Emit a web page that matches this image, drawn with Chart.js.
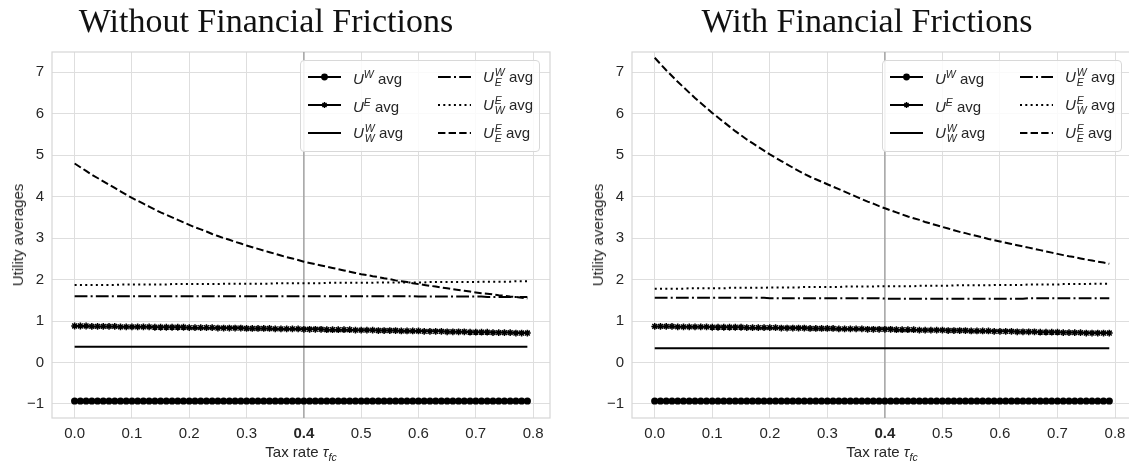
<!DOCTYPE html>
<html>
<head>
<meta charset="utf-8">
<script src="https://cdn.jsdelivr.net/npm/chart.js@4.4.1/dist/chart.umd.min.js"></script>
<style>
  body { margin: 0; background: #fff; }
  #page { position: relative; width: 1129px; height: 464px; overflow: hidden; font-family: "Liberation Sans", Arial, sans-serif; color: #262626; }
  canvas { position: absolute; top: 0; }
  .title { position: absolute; top: 4px; font-family: "Liberation Serif", serif; font-size: 34px; line-height: 34px; color: #111; white-space: nowrap; transform: translateX(-50%); }
  .xlab { position: absolute; top: 444px; font-size: 15px; line-height: 18px; white-space: nowrap; transform: translateX(-50%); }
  .ylab { position: absolute; font-size: 15px; line-height: 18px; white-space: nowrap; transform: translate(-50%, -50%) rotate(-90deg); }
  .legend { position: absolute; width: 240px; height: 92px; border: 1px solid #d8d8d8; border-radius: 4px; background: rgba(255,255,255,0.85); box-sizing: border-box; }
  .item { position: absolute; height: 20px; display: flex; align-items: center; font-size: 15px; white-space: nowrap; }
  .item svg { margin-right: 12px; }
  .sp { font-size: 10.5px; vertical-align: 6px; font-style: italic; }
  .ss { display: inline-block; vertical-align: -4px; font-size: 10.5px; line-height: 10px; font-style: italic; margin-left: 1px; }
  .ss span { display: block; }
</style>
</head>
<body>
<div id="page">
  <canvas id="chartL" width="570" height="464" style="left:0px"></canvas>
  <canvas id="chartR" width="570" height="464" style="left:570px"></canvas>
</div>
<script>
const taxRates = [
  0.00, 0.01, 0.02, 0.03, 0.04, 0.05, 0.06, 0.07, 0.08, 0.09,
  0.10, 0.11, 0.12, 0.13, 0.14, 0.15, 0.16, 0.17, 0.18, 0.19,
  0.20, 0.21, 0.22, 0.23, 0.24, 0.25, 0.26, 0.27, 0.28, 0.29,
  0.30, 0.31, 0.32, 0.33, 0.34, 0.35, 0.36, 0.37, 0.38, 0.39,
  0.40, 0.41, 0.42, 0.43, 0.44, 0.45, 0.46, 0.47, 0.48, 0.49,
  0.50, 0.51, 0.52, 0.53, 0.54, 0.55, 0.56, 0.57, 0.58, 0.59,
  0.60, 0.61, 0.62, 0.63, 0.64, 0.65, 0.66, 0.67, 0.68, 0.69,
  0.70, 0.71, 0.72, 0.73, 0.74, 0.75, 0.76, 0.77, 0.78, 0.79
];
const markedRate = 0.4;

// Without financial frictions
const uwLeft = [
  -0.93, -0.93, -0.93, -0.93, -0.93, -0.93, -0.93, -0.93, -0.93, -0.93,
  -0.93, -0.93, -0.93, -0.93, -0.93, -0.93, -0.93, -0.93, -0.93, -0.93,
  -0.93, -0.93, -0.93, -0.93, -0.93, -0.93, -0.93, -0.93, -0.93, -0.93,
  -0.93, -0.93, -0.93, -0.93, -0.93, -0.93, -0.93, -0.93, -0.93, -0.93,
  -0.93, -0.93, -0.93, -0.93, -0.93, -0.93, -0.93, -0.93, -0.93, -0.93,
  -0.93, -0.93, -0.93, -0.93, -0.93, -0.93, -0.93, -0.93, -0.93, -0.93,
  -0.93, -0.93, -0.93, -0.93, -0.93, -0.93, -0.93, -0.93, -0.93, -0.93,
  -0.93, -0.93, -0.93, -0.93, -0.93, -0.93, -0.93, -0.93, -0.93, -0.93
];
const ueLeft = [
  0.88, 0.88, 0.88, 0.87, 0.87, 0.87, 0.87, 0.87, 0.86, 0.86,
  0.86, 0.86, 0.86, 0.86, 0.85, 0.85, 0.85, 0.85, 0.85, 0.85,
  0.84, 0.84, 0.84, 0.84, 0.84, 0.83, 0.83, 0.83, 0.83, 0.83,
  0.82, 0.82, 0.82, 0.82, 0.82, 0.81, 0.81, 0.81, 0.81, 0.81,
  0.80, 0.80, 0.80, 0.80, 0.79, 0.79, 0.79, 0.79, 0.79, 0.78,
  0.78, 0.78, 0.78, 0.77, 0.77, 0.77, 0.77, 0.76, 0.76, 0.76,
  0.76, 0.75, 0.75, 0.75, 0.75, 0.74, 0.74, 0.74, 0.74, 0.73,
  0.73, 0.73, 0.73, 0.72, 0.72, 0.72, 0.72, 0.71, 0.71, 0.71
];
const uwwLeft = [
  0.38, 0.38, 0.38, 0.38, 0.38, 0.38, 0.38, 0.38, 0.38, 0.38,
  0.38, 0.38, 0.38, 0.38, 0.38, 0.38, 0.38, 0.38, 0.38, 0.38,
  0.38, 0.38, 0.38, 0.38, 0.38, 0.38, 0.38, 0.38, 0.38, 0.38,
  0.38, 0.38, 0.38, 0.38, 0.38, 0.38, 0.38, 0.38, 0.38, 0.38,
  0.38, 0.38, 0.38, 0.38, 0.38, 0.38, 0.38, 0.38, 0.38, 0.38,
  0.38, 0.38, 0.38, 0.38, 0.38, 0.38, 0.38, 0.38, 0.38, 0.38,
  0.38, 0.38, 0.38, 0.38, 0.38, 0.38, 0.38, 0.38, 0.38, 0.38,
  0.38, 0.38, 0.38, 0.38, 0.38, 0.38, 0.38, 0.38, 0.38, 0.38
];
const uweLeft = [
  1.60, 1.60, 1.60, 1.60, 1.60, 1.60, 1.60, 1.60, 1.60, 1.60,
  1.60, 1.60, 1.60, 1.60, 1.60, 1.60, 1.60, 1.60, 1.60, 1.60,
  1.60, 1.60, 1.60, 1.60, 1.60, 1.60, 1.60, 1.60, 1.60, 1.60,
  1.60, 1.60, 1.60, 1.60, 1.60, 1.60, 1.60, 1.60, 1.60, 1.60,
  1.60, 1.60, 1.60, 1.60, 1.60, 1.60, 1.60, 1.60, 1.60, 1.60,
  1.60, 1.60, 1.60, 1.60, 1.60, 1.60, 1.60, 1.60, 1.60, 1.60,
  1.59, 1.59, 1.59, 1.59, 1.59, 1.59, 1.59, 1.59, 1.59, 1.59,
  1.59, 1.59, 1.58, 1.58, 1.58, 1.58, 1.58, 1.58, 1.58, 1.58
];
const uewLeft = [
  1.87, 1.87, 1.87, 1.87, 1.87, 1.87, 1.87, 1.87, 1.88, 1.88,
  1.88, 1.88, 1.88, 1.88, 1.88, 1.88, 1.88, 1.89, 1.89, 1.89,
  1.89, 1.89, 1.89, 1.89, 1.89, 1.89, 1.90, 1.90, 1.90, 1.90,
  1.90, 1.90, 1.90, 1.90, 1.90, 1.91, 1.91, 1.91, 1.91, 1.91,
  1.91, 1.91, 1.91, 1.91, 1.92, 1.92, 1.92, 1.92, 1.92, 1.92,
  1.92, 1.92, 1.92, 1.93, 1.93, 1.93, 1.93, 1.93, 1.93, 1.93,
  1.93, 1.93, 1.94, 1.94, 1.94, 1.94, 1.94, 1.94, 1.94, 1.94,
  1.94, 1.95, 1.95, 1.95, 1.95, 1.95, 1.95, 1.96, 1.96, 1.96
];
const ueeLeft = [
  4.80, 4.71, 4.62, 4.53, 4.45, 4.37, 4.29, 4.21, 4.13, 4.05,
  3.97, 3.90, 3.83, 3.76, 3.69, 3.62, 3.56, 3.50, 3.44, 3.38,
  3.32, 3.26, 3.21, 3.16, 3.10, 3.05, 3.00, 2.96, 2.91, 2.87,
  2.82, 2.78, 2.74, 2.70, 2.66, 2.62, 2.58, 2.54, 2.51, 2.47,
  2.43, 2.40, 2.37, 2.34, 2.31, 2.28, 2.25, 2.22, 2.19, 2.16,
  2.13, 2.11, 2.08, 2.06, 2.03, 2.01, 1.98, 1.96, 1.94, 1.91,
  1.89, 1.87, 1.85, 1.83, 1.81, 1.79, 1.77, 1.75, 1.73, 1.71,
  1.69, 1.67, 1.66, 1.64, 1.62, 1.61, 1.59, 1.58, 1.56, 1.54
];

// With financial frictions
const uwRight = [
  -0.93, -0.93, -0.93, -0.93, -0.93, -0.93, -0.93, -0.93, -0.93, -0.93,
  -0.93, -0.93, -0.93, -0.93, -0.93, -0.93, -0.93, -0.93, -0.93, -0.93,
  -0.93, -0.93, -0.93, -0.93, -0.93, -0.93, -0.93, -0.93, -0.93, -0.93,
  -0.93, -0.93, -0.93, -0.93, -0.93, -0.93, -0.93, -0.93, -0.93, -0.93,
  -0.93, -0.93, -0.93, -0.93, -0.93, -0.93, -0.93, -0.93, -0.93, -0.93,
  -0.93, -0.93, -0.93, -0.93, -0.93, -0.93, -0.93, -0.93, -0.93, -0.93,
  -0.93, -0.93, -0.93, -0.93, -0.93, -0.93, -0.93, -0.93, -0.93, -0.93,
  -0.93, -0.93, -0.93, -0.93, -0.93, -0.93, -0.93, -0.93, -0.93, -0.93
];
const ueRight = [
  0.87, 0.87, 0.87, 0.87, 0.86, 0.86, 0.86, 0.86, 0.86, 0.86,
  0.85, 0.85, 0.85, 0.85, 0.85, 0.85, 0.84, 0.84, 0.84, 0.84,
  0.84, 0.84, 0.83, 0.83, 0.83, 0.83, 0.83, 0.82, 0.82, 0.82,
  0.82, 0.82, 0.81, 0.81, 0.81, 0.81, 0.81, 0.80, 0.80, 0.80,
  0.80, 0.80, 0.79, 0.79, 0.79, 0.79, 0.78, 0.78, 0.78, 0.78,
  0.78, 0.77, 0.77, 0.77, 0.77, 0.76, 0.76, 0.76, 0.76, 0.75,
  0.75, 0.75, 0.75, 0.74, 0.74, 0.74, 0.74, 0.73, 0.73, 0.73,
  0.73, 0.72, 0.72, 0.72, 0.72, 0.71, 0.71, 0.71, 0.71, 0.71
];
const uwwRight = [
  0.34, 0.34, 0.34, 0.34, 0.34, 0.34, 0.34, 0.34, 0.34, 0.34,
  0.34, 0.34, 0.34, 0.34, 0.34, 0.34, 0.34, 0.34, 0.34, 0.34,
  0.34, 0.34, 0.34, 0.34, 0.34, 0.34, 0.34, 0.34, 0.34, 0.34,
  0.34, 0.34, 0.34, 0.34, 0.34, 0.34, 0.34, 0.34, 0.34, 0.34,
  0.34, 0.34, 0.34, 0.34, 0.34, 0.34, 0.34, 0.34, 0.34, 0.34,
  0.34, 0.34, 0.34, 0.34, 0.34, 0.34, 0.34, 0.34, 0.34, 0.34,
  0.34, 0.34, 0.34, 0.34, 0.34, 0.34, 0.34, 0.34, 0.34, 0.34,
  0.34, 0.34, 0.34, 0.34, 0.34, 0.34, 0.34, 0.34, 0.34, 0.34
];
const uweRight = [
  1.56, 1.56, 1.56, 1.56, 1.56, 1.56, 1.56, 1.56, 1.56, 1.56,
  1.56, 1.56, 1.56, 1.56, 1.56, 1.56, 1.56, 1.56, 1.56, 1.56,
  1.55, 1.55, 1.55, 1.55, 1.55, 1.55, 1.55, 1.55, 1.55, 1.55,
  1.55, 1.55, 1.55, 1.55, 1.55, 1.55, 1.55, 1.55, 1.55, 1.55,
  1.54, 1.54, 1.54, 1.54, 1.54, 1.54, 1.54, 1.54, 1.54, 1.54,
  1.54, 1.54, 1.54, 1.54, 1.54, 1.54, 1.54, 1.54, 1.54, 1.54,
  1.54, 1.54, 1.54, 1.54, 1.54, 1.55, 1.55, 1.55, 1.55, 1.55,
  1.55, 1.55, 1.55, 1.55, 1.55, 1.55, 1.55, 1.55, 1.55, 1.55
];
const uewRight = [
  1.78, 1.78, 1.78, 1.78, 1.78, 1.78, 1.79, 1.79, 1.79, 1.79,
  1.79, 1.79, 1.79, 1.80, 1.80, 1.80, 1.80, 1.80, 1.80, 1.80,
  1.81, 1.81, 1.81, 1.81, 1.81, 1.81, 1.82, 1.82, 1.82, 1.82,
  1.82, 1.82, 1.82, 1.83, 1.83, 1.83, 1.83, 1.83, 1.83, 1.84,
  1.84, 1.84, 1.84, 1.84, 1.84, 1.84, 1.85, 1.85, 1.85, 1.85,
  1.85, 1.85, 1.86, 1.86, 1.86, 1.86, 1.86, 1.86, 1.86, 1.87,
  1.87, 1.87, 1.87, 1.87, 1.87, 1.88, 1.88, 1.88, 1.88, 1.88,
  1.88, 1.89, 1.89, 1.89, 1.89, 1.89, 1.90, 1.90, 1.90, 1.90
];
const ueeRight = [
  7.35, 7.20, 7.05, 6.91, 6.77, 6.64, 6.51, 6.38, 6.26, 6.14,
  6.02, 5.91, 5.80, 5.69, 5.58, 5.48, 5.38, 5.29, 5.20, 5.11,
  5.02, 4.94, 4.86, 4.78, 4.70, 4.62, 4.55, 4.48, 4.42, 4.36,
  4.30, 4.24, 4.18, 4.12, 4.06, 4.00, 3.94, 3.88, 3.83, 3.77,
  3.72, 3.67, 3.62, 3.57, 3.52, 3.48, 3.44, 3.39, 3.35, 3.31,
  3.27, 3.23, 3.19, 3.15, 3.12, 3.08, 3.05, 3.02, 2.98, 2.95,
  2.92, 2.89, 2.86, 2.83, 2.80, 2.77, 2.74, 2.71, 2.68, 2.65,
  2.62, 2.59, 2.56, 2.54, 2.51, 2.48, 2.46, 2.43, 2.41, 2.38
];

const seriesLabels = [
  '<i>U</i><span class="sp">W</span>&nbsp;avg',
  '<i>U</i><span class="sp">E</span>&nbsp;avg',
  '<i>U</i><span class="ss"><span>W</span><span>W</span></span>&nbsp;avg',
  '<i>U</i><span class="ss"><span>W</span><span>E</span></span>&nbsp;avg',
  '<i>U</i><span class="ss"><span>E</span><span>W</span></span>&nbsp;avg',
  '<i>U</i><span class="ss"><span>E</span><span>E</span></span>&nbsp;avg'
];
const lineStyles = [
  { dash: [], point: 'circle', radius: 3.6 },
  { dash: [], point: 'star', radius: 3.4 },
  { dash: [], point: false, radius: 0 },
  { dash: [12.8, 3.2, 2, 3.2], point: false, radius: 0 },
  { dash: [2, 3.3], point: false, radius: 0 },
  { dash: [7.4, 3.2], point: false, radius: 0 }
];

const frameAndMark = {
  id: 'frameAndMark',
  beforeDatasetsDraw(chart) {
    const { ctx, chartArea: a, scales } = chart;
    ctx.save();
    ctx.strokeStyle = '#d6d6d6';
    ctx.lineWidth = 1.2;
    ctx.strokeRect(a.left, a.top, a.right - a.left, a.bottom - a.top);
    const x = scales.x.getPixelForValue(markedRate);
    ctx.strokeStyle = '#a8a8a8';
    ctx.lineWidth = 1.6;
    ctx.beginPath();
    ctx.moveTo(x, a.top);
    ctx.lineTo(x, a.bottom);
    ctx.stroke();
    ctx.restore();
  }
};

function makeChart(id, series, yAxisWidth, padRight) {
  const datasets = series.map((vals, i) => ({
    data: taxRates.map((t, j) => ({ x: t, y: vals[j] })),
    borderColor: '#000',
    backgroundColor: '#000',
    borderWidth: 2,
    borderDash: lineStyles[i].dash,
    pointStyle: lineStyles[i].point,
    pointRadius: lineStyles[i].radius,
    pointBorderWidth: lineStyles[i].point === 'star' ? 1.5 : 0,
    pointBackgroundColor: '#000',
    pointBorderColor: '#000',
    tension: 0
  }));
  return new Chart(id, {
    type: 'line',
    data: { datasets },
    plugins: [frameAndMark],
    options: {
      responsive: false,
      animation: false,
      layout: { padding: { top: 52, right: padRight, left: 0, bottom: 0 } },
      plugins: { legend: { display: false }, tooltip: { enabled: false } },
      scales: {
        x: {
          type: 'linear',
          min: -0.0395,
          max: 0.8295,
          border: { display: false },
          grid: { color: '#dedede', drawTicks: false },
          afterFit: s => { s.height = 46; },
          ticks: {
            stepSize: 0.1,
            includeBounds: false,
            padding: 7,
            color: '#262626',
            font: ctx => ({
              family: '"Liberation Sans", Arial, sans-serif',
              size: 15,
              weight: ctx.tick && Math.abs(ctx.tick.value - markedRate) < 1e-9 ? 'bold' : 'normal'
            }),
            callback: v => v.toFixed(1)
          }
        },
        y: {
          min: -1.34,
          max: 7.49,
          border: { display: false },
          grid: { color: '#dedede', drawTicks: false },
          afterFit: s => { s.width = yAxisWidth; },
          ticks: {
            stepSize: 1,
            includeBounds: false,
            padding: 8,
            color: '#262626',
            font: { family: '"Liberation Sans", Arial, sans-serif', size: 15 },
            callback: v => String(v).replace('-', '\u2212')
          }
        }
      }
    }
  });
}

const page = document.getElementById('page');

function addText(cls, html, left, top) {
  const d = document.createElement('div');
  d.className = cls;
  d.innerHTML = html;
  d.style.left = left + 'px';
  if (top !== undefined) d.style.top = top + 'px';
  page.appendChild(d);
  return d;
}

function sampleSvg(style) {
  let s = '<svg width="33" height="12" viewBox="0 0 33 12">';
  s += '<line x1="0" y1="6" x2="33" y2="6" stroke="#000" stroke-width="2"' +
       (style.dash.length ? ' stroke-dasharray="' + style.dash.join(' ') + '"' : '') + '/>';
  if (style.point === 'circle') s += '<circle cx="16.5" cy="6" r="3.4" fill="#000"/>';
  if (style.point === 'star') {
    s += '<path d="M16.5 3V9M13.6 6H19.4M14.4 3.9L18.6 8.1M14.4 8.1L18.6 3.9" stroke="#000" stroke-width="1.4"/>';
  }
  return s + '</svg>';
}

function addLegend(chart, canvasLeft) {
  const a = chart.chartArea;
  const box = document.createElement('div');
  box.className = 'legend';
  box.style.left = (canvasLeft + a.right - 10 - 240) + 'px';
  box.style.top = (a.top + 8) + 'px';
  seriesLabels.forEach((lab, i) => {
    const it = document.createElement('div');
    it.className = 'item';
    it.style.left = (i < 3 ? 7 : 137) + 'px';
    it.style.top = (6 + (i % 3) * 28) + 'px';
    it.innerHTML = sampleSvg(lineStyles[i]) + '<span>' + lab + '</span>';
    box.appendChild(it);
  });
  page.appendChild(box);
}

function decorate(chart, canvasLeft, titleText, titleCenter) {
  const a = chart.chartArea;
  addText('title', titleText, titleCenter, undefined);
  addText('xlab', 'Tax rate <i>\u03c4</i><sub style="font-size:10.5px"><i>fc</i></sub>', canvasLeft + (a.left + a.right) / 2, 443);
  addText('ylab', 'Utility averages', canvasLeft + a.left - 34, (a.top + a.bottom) / 2);
  addLegend(chart, canvasLeft);
}

const chartL = makeChart('chartL', [uwLeft, ueLeft, uwwLeft, uweLeft, uewLeft, ueeLeft], 52, 20);
const chartR = makeChart('chartR', [uwRight, ueRight, uwwRight, uweRight, uewRight, ueeRight], 62, 8);

decorate(chartL, 0, 'Without Financial Frictions', 266);
decorate(chartR, 570, 'With Financial Frictions', 867);
</script>
</body>
</html>
